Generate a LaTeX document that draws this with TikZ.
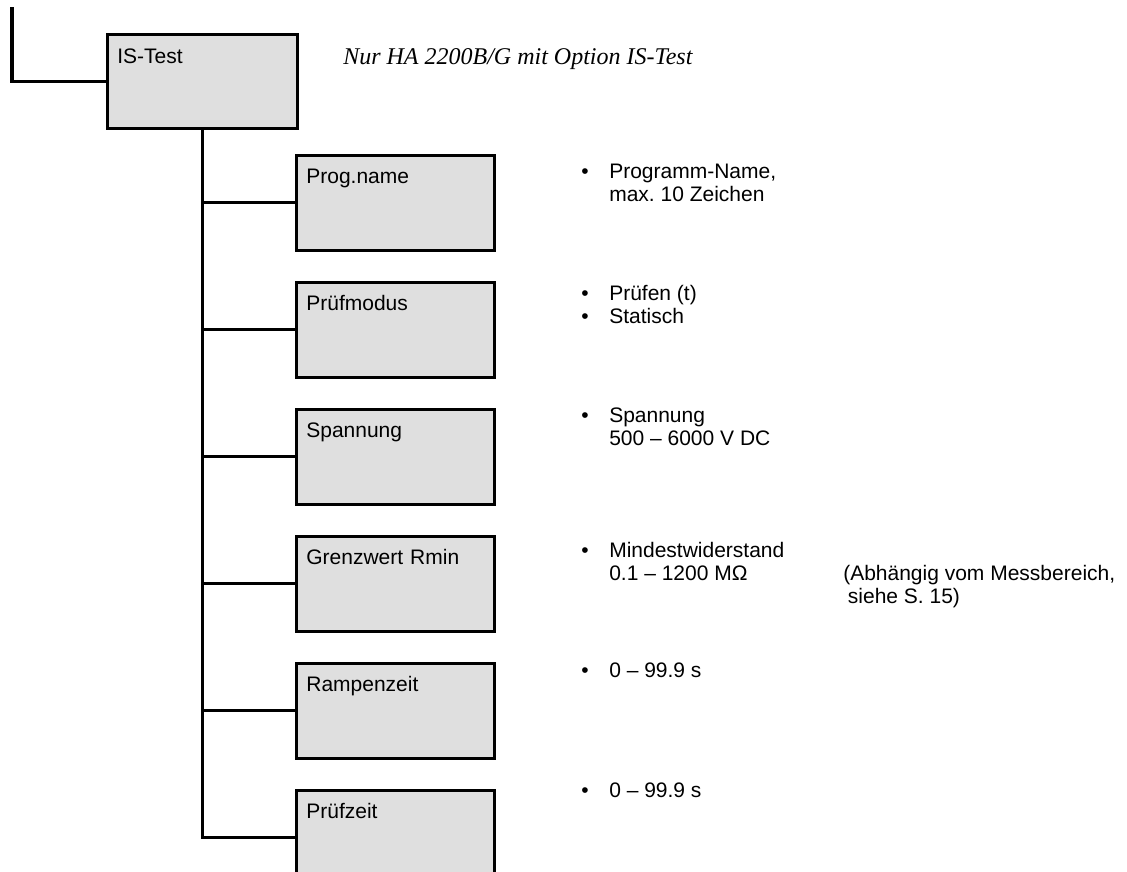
\documentclass[tikz,border=0pt]{standalone}
\usepackage{fontspec}
\setmainfont{Liberation Sans}
\newfontfamily\noteserif{Liberation Serif}
\usepackage{tikz}
\usepackage{xcolor}
\usetikzlibrary{positioning}
\definecolor{boxgray}{HTML}{DFDFDF}
\newcommand{\itm}{\makebox[21pt][l]{\textbullet}}
\newcommand{\ind}{\hspace*{21pt}}
\frenchspacing

\begin{document}
\begin{tikzpicture}
[
x=0.75pt, y=-0.75pt,
menu-a/.style={rectangle, draw, line width=2pt, fill=boxgray, inner xsep=7.5pt, inner ysep=0pt,
  text width=133.5pt, text height=21pt, text depth=50.25pt, align=left,
  font=\fontsize{15.75}{17.25}\selectfont},
menu-root/.style={menu-a, text width=127.5pt, text height=21.75pt, text depth=48.75pt},
text-a/.style={anchor=base west, inner sep=0pt, align=left, font=\fontsize{15.75}{17.25}\selectfont},
note-a/.style={anchor=base west, inner sep=0pt, font=\fontsize{18}{20}\noteserif\itshape},
link-a/.style={line width=2.3pt}
]
\useasboundingbox (0,0) rectangle (1127,871);

% menu boxes
\node (istest)     [menu-root, anchor=north west] at (106,33)  {IS-Test};
\node (progname)   [menu-a, anchor=north west]    at (295,154) {Prog.name};
\node (pruefmodus) [menu-a, below = 22pt of progname]   {Prüfmodus};
\node (spannung)   [menu-a, below = 22pt of pruefmodus] {Spannung};
\node (grenzwert)  [menu-a, below = 22pt of spannung]   {Grenzwert Rmin};
\node (rampenzeit) [menu-a, below = 22pt of grenzwert]  {Rampenzeit};
\node (pruefzeit)  [menu-a, below = 22pt of rampenzeit] {Prüfzeit};

% descriptions (base = last line)
\node (istest-note)     [note-a] at (343,64)  {Nur HA 2200B/G mit Option IS-Test};
\node (progname-txt)    [text-a] at (581,201) {\itm Programm-Name,\\ \ind max. 10 Zeichen};
\node (pruefmodus-txt)  [text-a] at (581,323) {\itm Prüfen (t)\\ \itm Statisch};
\node (spannung-txt)    [text-a] at (581,445) {\itm Spannung\\ \ind 500 – 6000 V DC};
\node (grenzwert-txt)   [text-a] at (581,580) {\itm Mindestwiderstand\\ \ind 0.1 – 1200 MΩ};
\node (grenzwert-note)  [text-a] at (843,603) {(Abhängig vom Messbereich,\\ \hspace*{3.5pt}siehe S. 15)};
\node (rampenzeit-txt)  [text-a] at (581,677) {\itm 0 – 99.9 s};
\node (pruefzeit-txt)   [text-a] at (581,797) {\itm 0 – 99.9 s};

% connectors
\coordinate (parent) at (12,7);
\draw [link-a] (parent) |- (istest.west);
\draw [link-a] (istest.south) |- (pruefzeit.west);
\foreach \n in {progname,pruefmodus,spannung,grenzwert,rampenzeit}
  \draw [link-a] (istest.south |- \n.west) -- (\n.west);
\end{tikzpicture}
\end{document}
